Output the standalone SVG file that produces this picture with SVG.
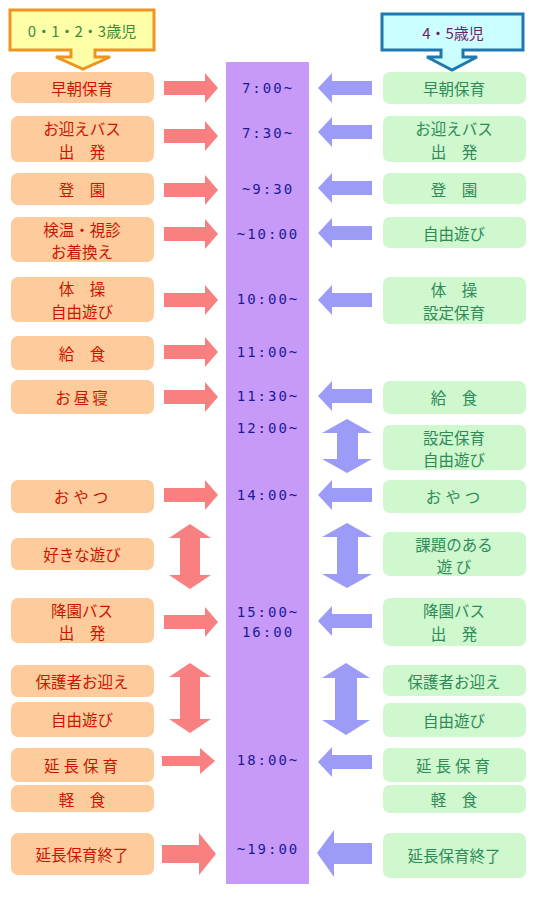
<svg xmlns="http://www.w3.org/2000/svg" width="537" height="897" viewBox="0 0 537 897">
<style>
.lb{fill:#FDCB9C}
.rb{fill:#CFF8CF}
.lt{fill:#CC1500;font-family:"Noto Sans CJK JP","Noto Sans",sans-serif;font-size:15.5px;text-anchor:middle;dominant-baseline:central}
.rt{fill:#2E8B57;font-family:"Noto Sans CJK JP","Noto Sans",sans-serif;font-size:15.5px;text-anchor:middle;dominant-baseline:central}
.tt{fill:#1A1A99;font-family:"DejaVu Sans Mono",monospace;font-size:14px;letter-spacing:2px;text-anchor:middle;dominant-baseline:central}
.ra{fill:#F88080}
.ba{fill:#9C9CF8}
</style>
<rect width="537" height="897" fill="#FFFFFF"/>
<g id="timeline">
<rect x="226" y="62" width="83" height="822" fill="#C89AF8"/>
<text class="tt" x="268" y="88">7:00~</text>
<text class="tt" x="268" y="133">7:30~</text>
<text class="tt" x="268" y="189">~9:30</text>
<text class="tt" x="268" y="234">~10:00</text>
<text class="tt" x="268" y="299">10:00~</text>
<text class="tt" x="268" y="352">11:00~</text>
<text class="tt" x="268" y="396">11:30~</text>
<text class="tt" x="268" y="428">12:00~</text>
<text class="tt" x="268" y="495">14:00~</text>
<text class="tt" x="268" y="612">15:00~</text>
<text class="tt" x="268" y="632">16:00</text>
<text class="tt" x="268" y="760">18:00~</text>
<text class="tt" x="268" y="849">~19:00</text>
</g>
<g id="header-left">
<path d="M10,10 H154 V50 H95 V57 H110 L83,69 L56,57 H71 V50 H10 Z" fill="#FFFFA8" stroke="#EE9420" stroke-width="3" stroke-linejoin="miter"/>
<text x="82" y="30" fill="#3C8C3C" font-family="'Noto Sans CJK JP','Noto Sans',sans-serif" font-size="15" text-anchor="middle" dominant-baseline="central">0・1・2・3歳児</text>
</g>
<g id="header-right">
<path d="M382,14 H523 V50 H463 V57 H477 L452,70 L427,57 H441 V50 H382 Z" fill="#CCFFFF" stroke="#1F78B0" stroke-width="3" stroke-linejoin="miter"/>
<text x="453" y="32" fill="#6B1F6B" font-family="'Noto Sans CJK JP','Noto Sans',sans-serif" font-size="15" text-anchor="middle" dominant-baseline="central">4・5歳児</text>
</g>
<g id="left-column">
<g id="l1"><rect class="lb" x="11" y="72" width="143" height="31" rx="7"/><text class="lt" x="82" y="88">早朝保育</text></g>
<g id="l2"><rect class="lb" x="11" y="116" width="143" height="46" rx="7"/><text class="lt" x="82" y="128">お迎えバス</text><text class="lt" x="82" y="151">出　発</text></g>
<g id="l3"><rect class="lb" x="11" y="173" width="143" height="32" rx="7"/><text class="lt" x="82" y="189">登　園</text></g>
<g id="l4"><rect class="lb" x="11" y="217" width="143" height="45" rx="7"/><text class="lt" x="82" y="229">検温・視診</text><text class="lt" x="82" y="251">お着換え</text></g>
<g id="l5"><rect class="lb" x="11" y="277" width="143" height="45" rx="7"/><text class="lt" x="82" y="288">体　操</text><text class="lt" x="82" y="311">自由遊び</text></g>
<g id="l6"><rect class="lb" x="11" y="336" width="143" height="34" rx="7"/><text class="lt" x="82" y="353">給　食</text></g>
<g id="l7"><rect class="lb" x="11" y="380" width="143" height="34" rx="7"/><text class="lt" x="83" y="397" letter-spacing="3">お昼寝</text></g>
<g id="l8"><rect class="lb" x="11" y="480" width="143" height="33" rx="7"/><text class="lt" x="83" y="496" letter-spacing="4">おやつ</text></g>
<g id="l9"><rect class="lb" x="11" y="538" width="143" height="32" rx="7"/><text class="lt" x="82" y="554">好きな遊び</text></g>
<g id="l10"><rect class="lb" x="11" y="598" width="143" height="45" rx="7"/><text class="lt" x="82" y="610">降園バス</text><text class="lt" x="82" y="632">出　発</text></g>
<g id="l11"><rect class="lb" x="11" y="665" width="143" height="32" rx="7"/><text class="lt" x="82" y="681">保護者お迎え</text></g>
<g id="l12"><rect class="lb" x="11" y="702" width="143" height="35" rx="7"/><text class="lt" x="82" y="719">自由遊び</text></g>
<g id="l13"><rect class="lb" x="11" y="748" width="143" height="34" rx="7"/><text class="lt" x="83" y="765" letter-spacing="4">延長保育</text></g>
<g id="l14"><rect class="lb" x="11" y="785" width="143" height="27" rx="7"/><text class="lt" x="82" y="799">軽　食</text></g>
<g id="l15"><rect class="lb" x="11" y="833" width="143" height="42" rx="7"/><text class="lt" x="82" y="854">延長保育終了</text></g>
</g>
<g id="right-column">
<g id="r1"><rect class="rb" x="383" y="72" width="143" height="32" rx="7"/><text class="rt" x="454" y="88">早朝保育</text></g>
<g id="r2"><rect class="rb" x="383" y="116" width="143" height="46" rx="7"/><text class="rt" x="454" y="128">お迎えバス</text><text class="rt" x="454" y="151">出　発</text></g>
<g id="r3"><rect class="rb" x="383" y="173" width="143" height="31" rx="7"/><text class="rt" x="454" y="189">登　園</text></g>
<g id="r4"><rect class="rb" x="383" y="217" width="143" height="31" rx="7"/><text class="rt" x="454" y="233">自由遊び</text></g>
<g id="r5"><rect class="rb" x="383" y="277" width="143" height="47" rx="7"/><text class="rt" x="454" y="289">体　操</text><text class="rt" x="454" y="312">設定保育</text></g>
<g id="r6"><rect class="rb" x="383" y="381" width="143" height="33" rx="7"/><text class="rt" x="454" y="397">給　食</text></g>
<g id="r7"><rect class="rb" x="383" y="425" width="143" height="45" rx="7"/><text class="rt" x="454" y="437">設定保育</text><text class="rt" x="454" y="459">自由遊び</text></g>
<g id="r8"><rect class="rb" x="383" y="480" width="143" height="33" rx="7"/><text class="rt" x="455" y="496" letter-spacing="4">おやつ</text></g>
<g id="r9"><rect class="rb" x="383" y="532" width="143" height="44" rx="7"/><text class="rt" x="454" y="544">課題のある</text><text class="rt" x="454" y="566">遊 び</text></g>
<g id="r10"><rect class="rb" x="383" y="598" width="143" height="48" rx="7"/><text class="rt" x="454" y="610">降園バス</text><text class="rt" x="454" y="633">出　発</text></g>
<g id="r11"><rect class="rb" x="383" y="665" width="143" height="31" rx="7"/><text class="rt" x="454" y="681">保護者お迎え</text></g>
<g id="r12"><rect class="rb" x="383" y="703" width="143" height="34" rx="7"/><text class="rt" x="454" y="720">自由遊び</text></g>
<g id="r13"><rect class="rb" x="383" y="748" width="143" height="34" rx="7"/><text class="rt" x="455" y="765" letter-spacing="4">延長保育</text></g>
<g id="r14"><rect class="rb" x="383" y="785" width="143" height="28" rx="7"/><text class="rt" x="454" y="799">軽　食</text></g>
<g id="r15"><rect class="rb" x="383" y="833" width="143" height="45" rx="7"/><text class="rt" x="454" y="855">延長保育終了</text></g>
</g>
<g id="connectors">
<path class="ra" d="M164,81 H205 V73 L218,88 L205,103 V95 H164 Z"/>
<path class="ra" d="M164,129 H205 V121 L218,136 L205,151 V143 H164 Z"/>
<path class="ra" d="M164,183 H205 V175 L218,190 L205,205 V197 H164 Z"/>
<path class="ra" d="M164,227 H205 V219 L218,234 L205,249 V241 H164 Z"/>
<path class="ra" d="M164,293 H205 V285 L218,300 L205,315 V307 H164 Z"/>
<path class="ra" d="M164,345 H205 V337 L218,352 L205,367 V359 H164 Z"/>
<path class="ra" d="M164,390 H205 V382 L218,397 L205,412 V404 H164 Z"/>
<path class="ra" d="M164,488 H205 V480 L218,495 L205,510 V502 H164 Z"/>
<path class="ra" d="M190,524 L211,538 H200 V575 H211 L190,589 L169,575 H180 V538 H169 Z"/>
<path class="ra" d="M164,615 H205 V607 L218,622 L205,637 V629 H164 Z"/>
<path class="ra" d="M190,663 L211,677 H200 V719 H211 L190,733 L169,719 H180 V677 H169 Z"/>
<path class="ra" d="M162,756 H200 V748 L215,761 L200,774 V766 H162 Z"/>
<path class="ra" d="M162,845 H199 V833 L216,854 L199,875 V863 H162 Z"/>
<path class="ba" d="M318,88 L332,73 V81 H372 V95 H332 V103 Z"/>
<path class="ba" d="M318,132 L332,117 V125 H372 V139 H332 V147 Z"/>
<path class="ba" d="M318,188 L332,173 V181 H372 V195 H332 V203 Z"/>
<path class="ba" d="M318,233 L332,218 V226 H372 V240 H332 V248 Z"/>
<path class="ba" d="M318,300 L332,285 V293 H372 V307 H332 V315 Z"/>
<path class="ba" d="M318,396 L332,381 V389 H372 V403 H332 V411 Z"/>
<path class="ba" d="M347,419 L372,433 H358 V459 H372 L347,473 L322,459 H337 V433 H322 Z"/>
<path class="ba" d="M318,495 L332,480 V488 H372 V502 H332 V510 Z"/>
<path class="ba" d="M347,523 L372,537 H358 V574 H372 L347,588 L322,574 H337 V537 H322 Z"/>
<path class="ba" d="M318,621 L332,606 V614 H372 V628 H332 V636 Z"/>
<path class="ba" d="M346,663 L370,678 H357 V720 H370 L346,735 L322,720 H335 V678 H322 Z"/>
<path class="ba" d="M318,762 L332,747 V755 H372 V769 H332 V777 Z"/>
<path class="ba" d="M317,853 L334,830 V843 H372 V864 H334 V877 Z"/>
</g>
</svg>
